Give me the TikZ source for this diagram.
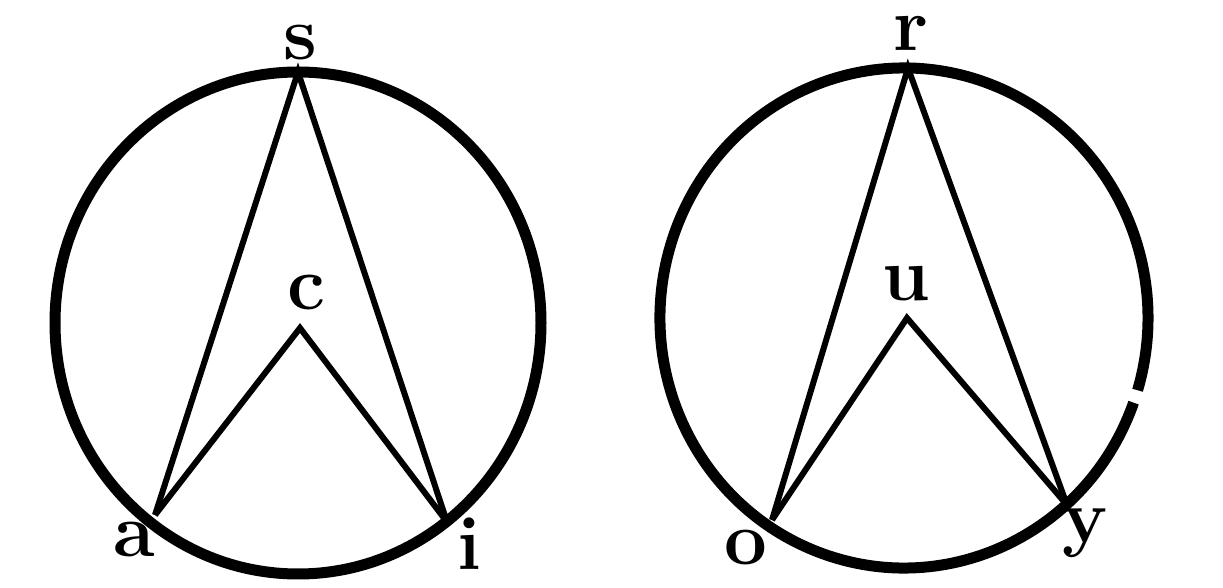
\documentclass[tikz,border=0pt]{standalone}
\usetikzlibrary{calc}
\begin{document}
\begin{tikzpicture}[x=0.5pt,y=-0.5pt,
  rim/.style={line width=5.5pt},
  chord/.style={line width=3pt},
  lbl/.style={inner sep=0pt,font=\fontsize{38}{38}\selectfont\bfseries}]
\useasboundingbox (0,0) rectangle (1223,588);
% left figure
\coordinate (C1) at (298,323);
\coordinate (s) at (298,72);
\coordinate (c) at (300,328);
\coordinate (a) at (155,515);
\coordinate (i) at (447,522);
\draw[rim] (C1) ellipse[x radius=243,y radius=251];
\draw[chord] (a) -- (s) -- (i);
\draw[chord] (a) -- (c) -- (i);
\node[lbl] (ls) at (300,43) {s};
\node[lbl] (lc) at (306,293) {c};
\node[lbl] (la) at (134,540) {a};
\node[lbl] (li) at (469,544) {i};
% right figure
\coordinate (C2) at (904,318);
\coordinate (r) at (908,68);
\coordinate (u) at (907,318);
\coordinate (o) at (772,520);
\coordinate (y) at (1067,505);
\draw[rim] ($(C2)+(19.8:244 and 250)$) arc[start angle=19.8,end angle=376.8,x radius=244,y radius=250];
\draw[chord] (o) -- (r) -- (y);
\draw[chord] (o) -- (u) -- (y);
\node[lbl] (lr) at (911,33) {r};
\node[lbl] (lu) at (906,284) {u};
\node[lbl] (lo) at (746,548) {o};
\node[lbl] (ly) at (1085,533) {y};
\end{tikzpicture}
\end{document}
